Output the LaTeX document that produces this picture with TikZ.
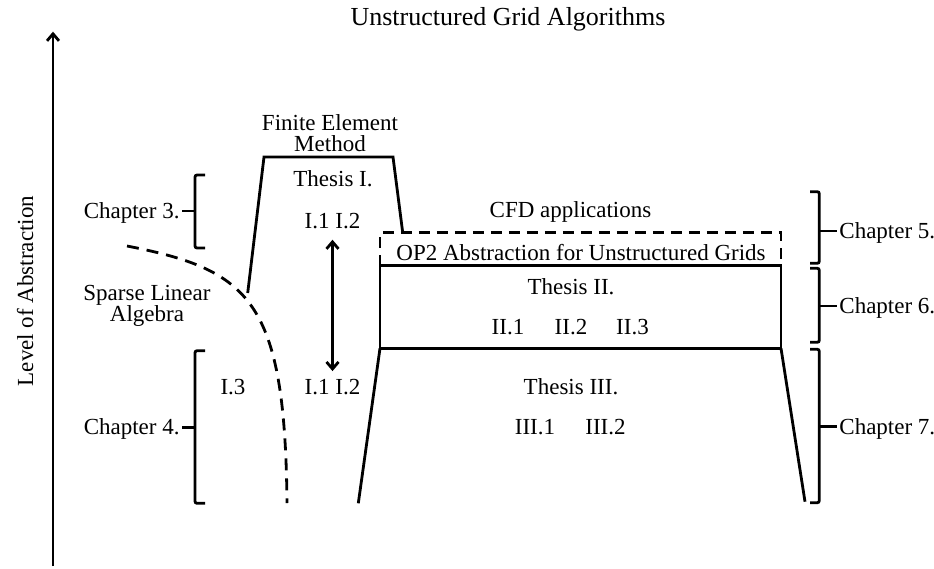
\documentclass[tikz,border=0pt]{standalone}
\usepackage{fontspec}
\setmainfont{Liberation Serif}
\usetikzlibrary{arrows.meta}
\begin{document}
\begin{tikzpicture}[x=1pt, y=-1pt, line width=2.8pt,
  >={Straight Barb[length=7pt,width=12pt]},
  every node/.style={font=\fontsize{23}{26}\selectfont, inner sep=1pt},
  txt/.style={anchor=base},
  twoline/.style={align=center, font=\fontsize{23}{21}\selectfont},
  dashline/.style={dash pattern=on 11pt off 7pt},
  curveline/.style={dash pattern=on 12pt off 8pt},
  brace/.style={rounded corners=2pt}]
\useasboundingbox (0,0) rectangle (934,568);
% axis
\coordinate (abot) at (53,566);
\coordinate (atop) at (53,31.7);
\draw[->] (abot) -- (atop);
\node[anchor=base, rotate=90] (lvl) at (33,291) {Level of Abstraction};
\node[txt, font=\fontsize{26}{28}\selectfont] (title) at (508,25) {Unstructured Grid Algorithms};
% finite element method
\node[twoline] (fem) at (330,133) {Finite Element\\Method};
\coordinate (femA) at (247.7,293);
\coordinate (femB) at (264,157);
\coordinate (femC) at (393,157);
\coordinate (femD) at (402.7,232.5);
\draw (femA) -- (femB) -- (femC) -- (femD);
\node[txt] (th1) at (333,186) {Thesis I.};
\node[txt] (i12a) at (332.5,228.5) {I.1 I.2};
\node[txt] (i12b) at (332.5,394) {I.1 I.2};
\draw[<->, shorten <=8.5pt, shorten >=5.3pt] (i12a) -- (i12b);
\node[txt] (i3) at (233,394) {I.3};
% sparse linear algebra
\node[twoline] (sla) at (147,305.5) {Sparse Linear\\Algebra};
\coordinate (slaA) at (127,246);
\coordinate (slaB) at (287,503);
\draw[curveline] (slaA) .. controls (250,270) and (285,300) .. (slaB);
% OP2 and CFD
\node[txt] (cfd) at (570.5,217.5) {CFD applications};
\coordinate (opA) at (380,265.7);
\coordinate (opB) at (380,232.5);
\coordinate (opC) at (781,232.5);
\coordinate (opD) at (781,265.7);
\draw[dashline] (opA) -- (opB) -- (opC) -- (opD);
\node[txt] (op2) at (581,260) {OP2 Abstraction for Unstructured Grids};
\coordinate (t2A) at (380,348.3);
\coordinate (t2D) at (781,348.3);
\draw (opA) -- (opD) -- (t2D) -- (t2A) -- cycle;
\node[txt] (th2) at (571,294) {Thesis II.};
\node[txt] (ii1) at (508,334) {II.1};
\node[txt] (ii2) at (571,334) {II.2};
\node[txt] (ii3) at (632.5,334) {II.3};
\coordinate (t3A) at (358.3,503.3);
\coordinate (t3D) at (805,501.7);
\draw (t2A) -- (t3A);
\draw (t2D) -- (t3D);
\node[txt] (th3) at (571,394) {Thesis III.};
\node[txt] (iii1) at (535,434) {III.1};
\node[txt] (iii2) at (605.5,434) {III.2};
% chapters
\node[anchor=base east] (ch3) at (182,218.5) {Chapter 3.};
\node[anchor=base east] (ch4) at (182,434.8) {Chapter 4.};
\node[anchor=base west] (ch5) at (837,238.5) {Chapter 5.};
\node[anchor=base west] (ch6) at (837,313.5) {Chapter 6.};
\node[anchor=base west] (ch7) at (837,434.2) {Chapter 7.};
\draw[brace] (205,175) -- (195,175) -- (195,248) -- (205,248);
\draw[brace] (205,350.7) -- (195,350.7) -- (195,503.3) -- (205,503.3);
\draw[brace] (810,191.7) -- (819.3,191.7) -- (819.3,263.3) -- (810,263.3);
\draw[brace] (810,268.3) -- (819.3,268.3) -- (819.3,342.3) -- (810,342.3);
\draw[brace] (810,349.3) -- (819.3,349.3) -- (819.3,502.7) -- (810,502.7);
\coordinate (b3) at (195,211);
\coordinate (b4) at (195,427.3);
\coordinate (b5) at (819.3,231);
\coordinate (b6) at (819.3,306);
\coordinate (b7) at (819.3,426.7);
\draw (b3) -- (b3 -| ch3.east);
\draw (b4) -- (b4 -| ch4.east);
\draw (b5) -- (b5 -| ch5.west);
\draw (b6) -- (b6 -| ch6.west);
\draw (b7) -- (b7 -| ch7.west);
\end{tikzpicture}
\end{document}
